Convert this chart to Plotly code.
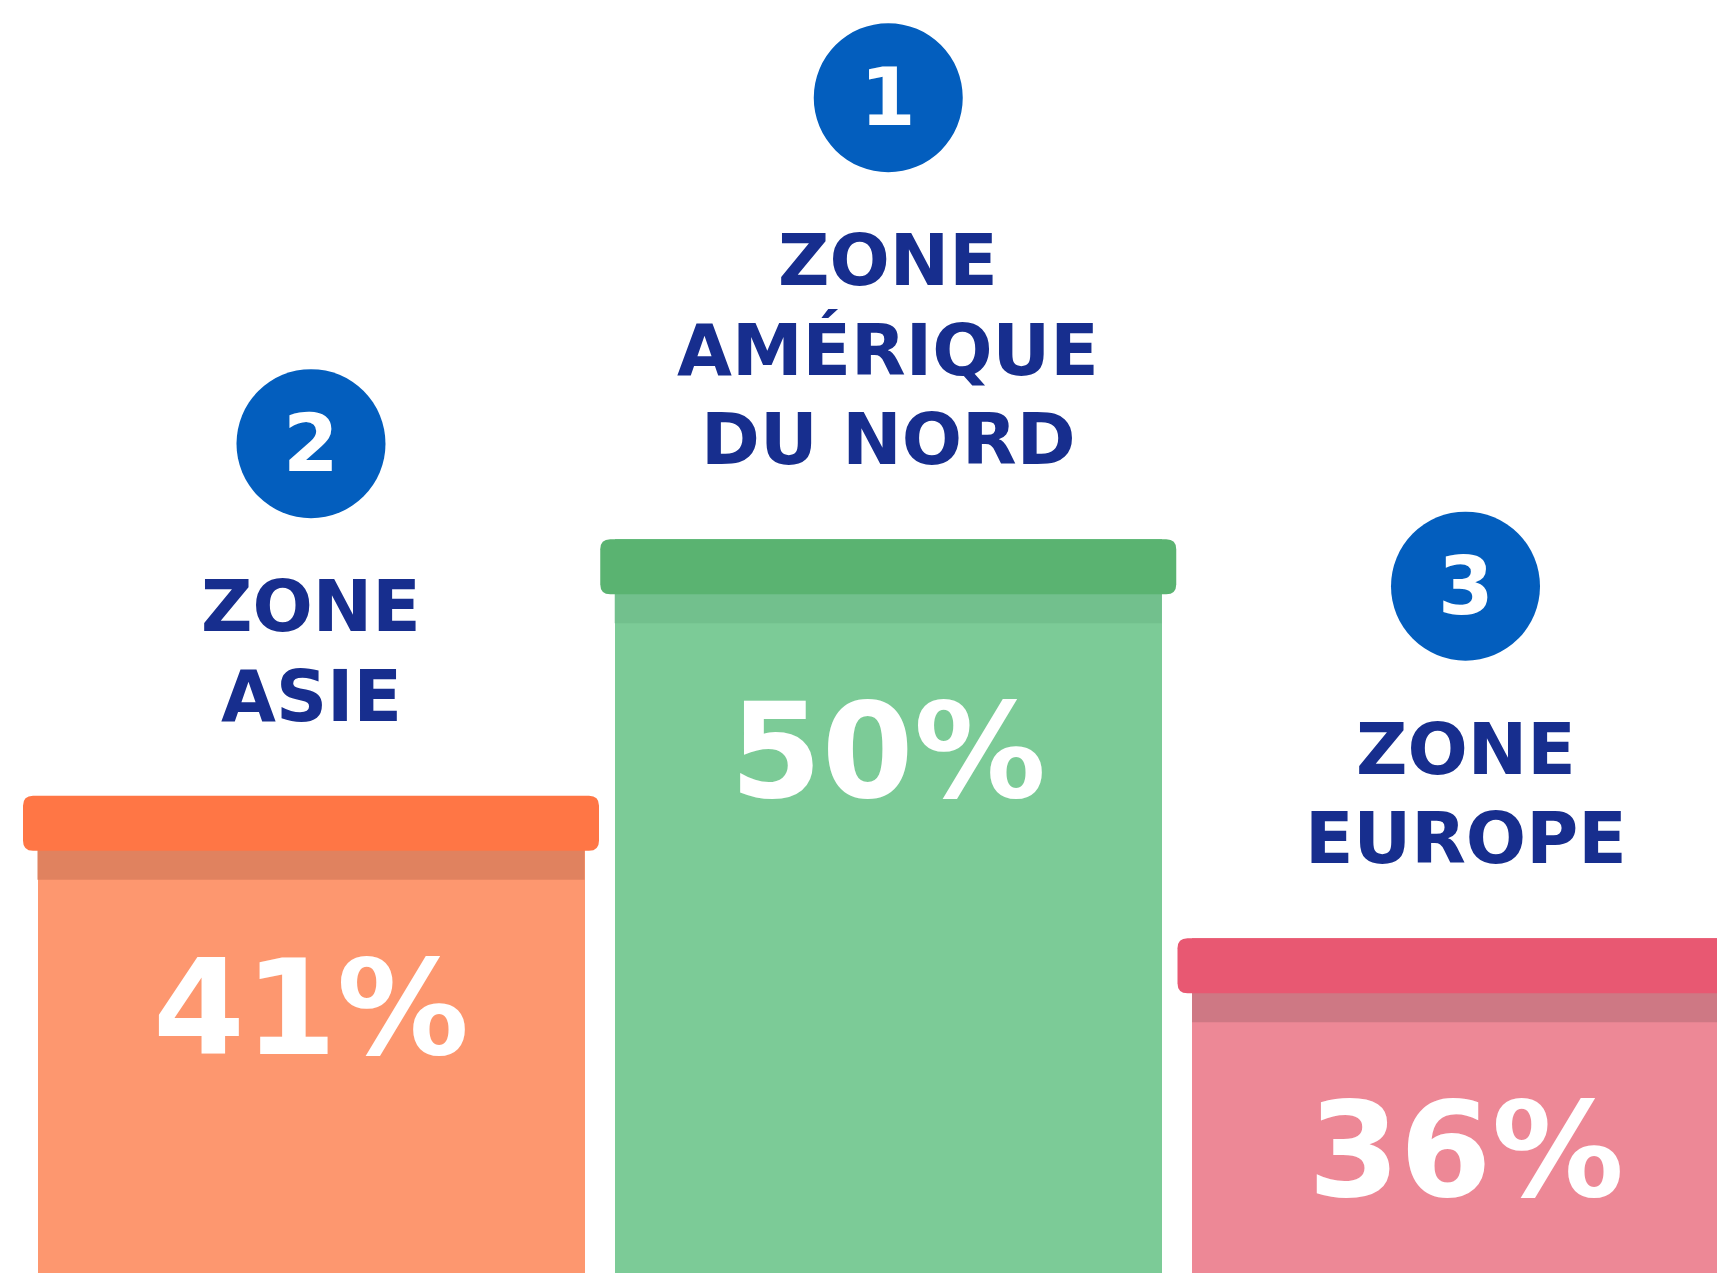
import plotly.graph_objects as go

# data
zones = ["ZONE ASIE", "ZONE AMÉRIQUE DU NORD", "ZONE EUROPE"]
label_lines = [["ZONE", "ASIE"], ["ZONE", "AMÉRIQUE", "DU NORD"], ["ZONE", "EUROPE"]]
shares = [41, 50, 36]
ranks = [2, 1, 3]

body_colors = ["#FD976F", "#7CCB97", "#ED8896"]
band_colors = ["#E0825F", "#72C08D", "#CE7884"]
cap_colors = ["#FF7645", "#5AB371", "#E85872"]
circle_blue = "#035EBE"
navy = "#172E8E"
FONT = "DejaVu Sans"

fig = go.Figure()

# bar bodies
fig.add_trace(go.Bar(
    x=zones, y=shares,
    width=0.9476,
    marker=dict(color=body_colors, line=dict(width=0)),
    hoverinfo="skip",
    showlegend=False,
))

# rounded cap path in pixels, relative to bar top
W, H, r = 288, 55, 10
cap_path = (f"M {-W + r},0 L {W - r},0 Q {W},0 {W},{-r} L {W},{-H + r} "
            f"Q {W},{-H} {W - r},{-H} L {-W + r},{-H} Q {-W},{-H} {-W},{-H + r} "
            f"L {-W},{-r} Q {-W},0 {-W + r},0 Z")

line_gap = 89.5
label_base = 56
for i, (zone, val) in enumerate(zip(zones, shares)):
    # darker band under the cap
    fig.add_shape(type="rect", xref="x", yref="y",
                  xsizemode="pixel", ysizemode="pixel",
                  xanchor=zone, yanchor=val,
                  x0=-273.5, x1=273.5, y0=-H - 29, y1=-H + 1,
                  fillcolor=band_colors[i], line=dict(width=0))
    # cap
    fig.add_shape(type="path", xref="x", yref="y",
                  xsizemode="pixel", ysizemode="pixel",
                  xanchor=zone, yanchor=val,
                  path=cap_path,
                  fillcolor=cap_colors[i], line=dict(width=0))
    # percentage
    fig.add_annotation(x=zone, y=val, text=f"<b>{val}%</b>", showarrow=False,
                       yanchor="middle", yshift=-212,
                       font=dict(family=FONT, size=132, color="white"))
    # zone label, one line at a time
    lines = label_lines[i]
    n = len(lines)
    for j, txt in enumerate(lines):
        fig.add_annotation(x=zone, y=val, text=f"<b>{txt}</b>",
                           showarrow=False, yanchor="bottom",
                           yshift=label_base + (n - 1 - j) * line_gap,
                           font=dict(family=FONT, size=71, color=navy))
    # rank circle
    cy = label_base + 15 + (n - 1) * line_gap + 52 + 65 + 74.5
    fig.add_shape(type="circle", xref="x", yref="y",
                  xsizemode="pixel", ysizemode="pixel",
                  xanchor=zone, yanchor=val,
                  x0=-74.5, x1=74.5, y0=cy - 74.5, y1=cy + 74.5,
                  fillcolor=circle_blue, line=dict(width=0))
    fig.add_annotation(x=zone, y=val, text=f"<b>{ranks[i]}</b>", showarrow=False,
                       yanchor="middle", yshift=cy,
                       font=dict(family=FONT, size=80, color="white"))

fig.update_layout(
    width=1725, height=1273,
    margin=dict(l=0, r=0, t=0, b=0),
    plot_bgcolor="white", paper_bgcolor="white",
    bargap=0,
    xaxis=dict(range=[-0.5249, 2.4634], visible=False, fixedrange=True),
    yaxis=dict(range=[23.97, 68.64], visible=False, fixedrange=True),
)

fig.write_html("out.html", config={"displayModeBar": False})
